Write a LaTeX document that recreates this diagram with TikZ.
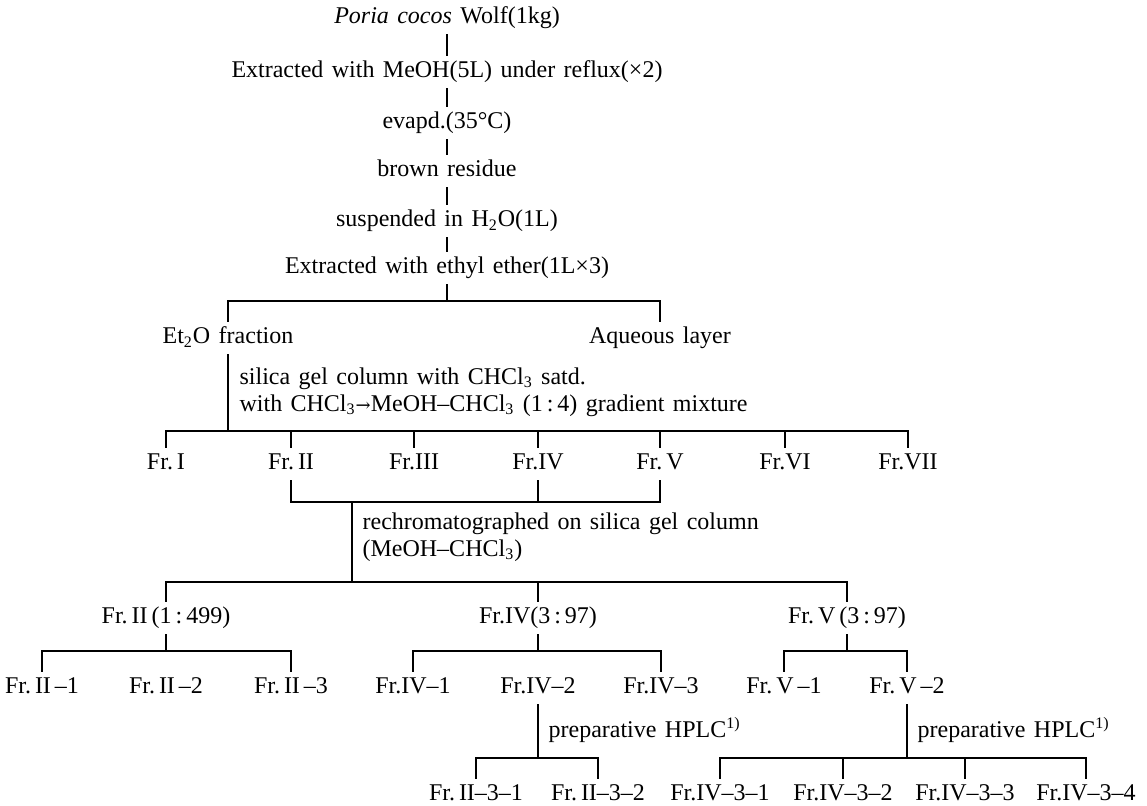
\documentclass[tikz,border=0pt]{standalone}
\usepackage{fontspec}
\setmainfont{Liberation Serif}[WordSpace=1.4]
\newfontfamily\arrowfont{DejaVu Serif}

\begin{document}
\begin{tikzpicture}[x=0.5pt, y=-0.5pt, line width=0.6pt,
        lbl/.style={inner sep=2.5pt, text height=8pt, text depth=2.5pt, font=\fontsize{12}{13.5}\selectfont},
        note/.style={anchor=west, align=left, inner sep=0pt, font=\fontsize{12}{13.5}\selectfont}]
        % Frame
        \useasboundingbox (0,0) rectangle (1147,806);

        % Extraction steps
        \node[lbl] (poria) at (447,18) {\textit{Poria cocos} Wolf(1kg)};
        \node[lbl] (meoh) at (447,72) {Extracted with MeOH(5L) under reflux(×2)};
        \node[lbl] (evap) at (447,123) {evapd.(35°C)};
        \node[lbl] (resid) at (447,171) {brown residue};
        \node[lbl] (susp) at (447,221) {suspended in H\textsubscript{2}O(1L)};
        \node[lbl] (ether) at (447,268) {Extracted with ethyl ether(1L×3)};
        \draw (poria) -- (meoh);
        \draw (meoh) -- (evap);
        \draw (evap) -- (resid);
        \draw (resid) -- (susp);
        \draw (susp) -- (ether);

        % Ether / water split
        \node[lbl] (et2o) at (228,338) {Et\textsubscript{2}O fraction};
        \node[lbl] (aq) at (660,338) {Aqueous layer};
        \coordinate (s0) at (447,301);
        \draw (ether.south) -- (s0);
        \draw (et2o.north) |- (s0) -| (aq.north);

        % Silica gel column
        \node[note] (silica) at (239,392) {silica gel column with CHCl\textsubscript{3} satd.\\with CHCl\textsubscript{3}{\arrowfont\fontsize{9}{10}\selectfont →}MeOH–CHCl\textsubscript{3} (1\,:\,4) gradient mixture};
        \node[lbl] (frI) at (166,464) {Fr.\,I};
        \node[lbl] (frII) at (291,464) {Fr.\,II};
        \node[lbl] (frIII) at (414,464) {Fr.III};
        \node[lbl] (frIV) at (538,464) {Fr.IV};
        \node[lbl] (frV) at (660,464) {Fr.\,V};
        \node[lbl] (frVI) at (785,464) {Fr.VI};
        \node[lbl] (frVII) at (908,464) {Fr.VII};
        \coordinate (s1) at (228,431);
        \draw (et2o.south) -- (s1);
        \draw (frI.north) |- (s1) -| (frVII.north);
        \draw (frII.north) -- (frII.north |- s1);
        \draw (frIII.north) -- (frIII.north |- s1);
        \draw (frIV.north) -- (frIV.north |- s1);
        \draw (frV.north) -- (frV.north |- s1);
        \draw (frVI.north) -- (frVI.north |- s1);

        % Rechromatography
        \node[note] (rechrom) at (362,537) {rechromatographed on silica gel column\\(MeOH–CHCl\textsubscript{3})};
        \node[lbl] (frIIa) at (166,618) {Fr.\,II\,(1\,:\,499)};
        \node[lbl] (frIVa) at (538,618) {Fr.IV(3\,:\,97)};
        \node[lbl] (frVa) at (847,618) {Fr.\,V\,(3\,:\,97)};
        \coordinate (s2) at (352,502);
        \coordinate (s3) at (352,582);
        \draw (frII.south) |- (s2) -| (frV.south);
        \draw (frIV.south) -- (frIV.south |- s2);
        \draw (s2) -- (s3);
        \draw (frIIa.north) |- (s3) -| (frVa.north);
        \draw (frIVa.north) -- (frIVa.north |- s3);

        % Sub-fractions
        \node[lbl] (frIIb1) at (42,688) {Fr.\,II\,–1};
        \node[lbl] (frIIb2) at (166,688) {Fr.\,II\,–2};
        \node[lbl] (frIIb3) at (291,688) {Fr.\,II\,–3};
        \node[lbl] (frIVb1) at (413,688) {Fr.IV–1};
        \node[lbl] (frIVb2) at (538,688) {Fr.IV–2};
        \node[lbl] (frIVb3) at (661,688) {Fr.IV–3};
        \node[lbl] (frVb1) at (784,688) {Fr.\,V\,–1};
        \node[lbl] (frVb2) at (907,688) {Fr.\,V\,–2};
        \coordinate (t1) at (166,651);
        \coordinate (t2) at (538,651);
        \coordinate (t3) at (847,651);
        \draw (frIIa.south) -- (t1);
        \draw (frIIb1.north) |- (t1) -| (frIIb3.north);
        \draw (frIVa.south) -- (t2);
        \draw (frIVb1.north) |- (t2) -| (frIVb3.north);
        \draw (frVa.south) -- (t3);
        \draw (frVb1.north) |- (t3) -| (frVb2.north);

        % Preparative HPLC
        \node[note] (hplcA) at (548,730) {preparative HPLC\textsuperscript{1)}};
        \node[note] (hplcB) at (917,730) {preparative HPLC\textsuperscript{1)}};
        \node[lbl] (frIIc1) at (476,795) {Fr.\,II–3–1};
        \node[lbl] (frIIc2) at (598,795) {Fr.\,II–3–2};
        \node[lbl] (frIVc1) at (720,795) {Fr.IV–3–1};
        \node[lbl] (frIVc2) at (843,795) {Fr.IV–3–2};
        \node[lbl] (frIVc3) at (965,795) {Fr.IV–3–3};
        \node[lbl] (frIVc4) at (1086,795) {Fr.IV–3–4};
        \coordinate (u1) at (538,758);
        \coordinate (u2) at (907,758);
        \draw (frIVb2.south) -- (u1);
        \draw (frIIc1.north) |- (u1) -| (frIIc2.north);
        \draw (frVb2.south) -- (u2);
        \draw (frIVc1.north) |- (u2) -| (frIVc4.north);
        \draw (frIVc2.north) -- (frIVc2.north |- u2);
        \draw (frIVc3.north) -- (frIVc3.north |- u2);
\end{tikzpicture}
\end{document}
